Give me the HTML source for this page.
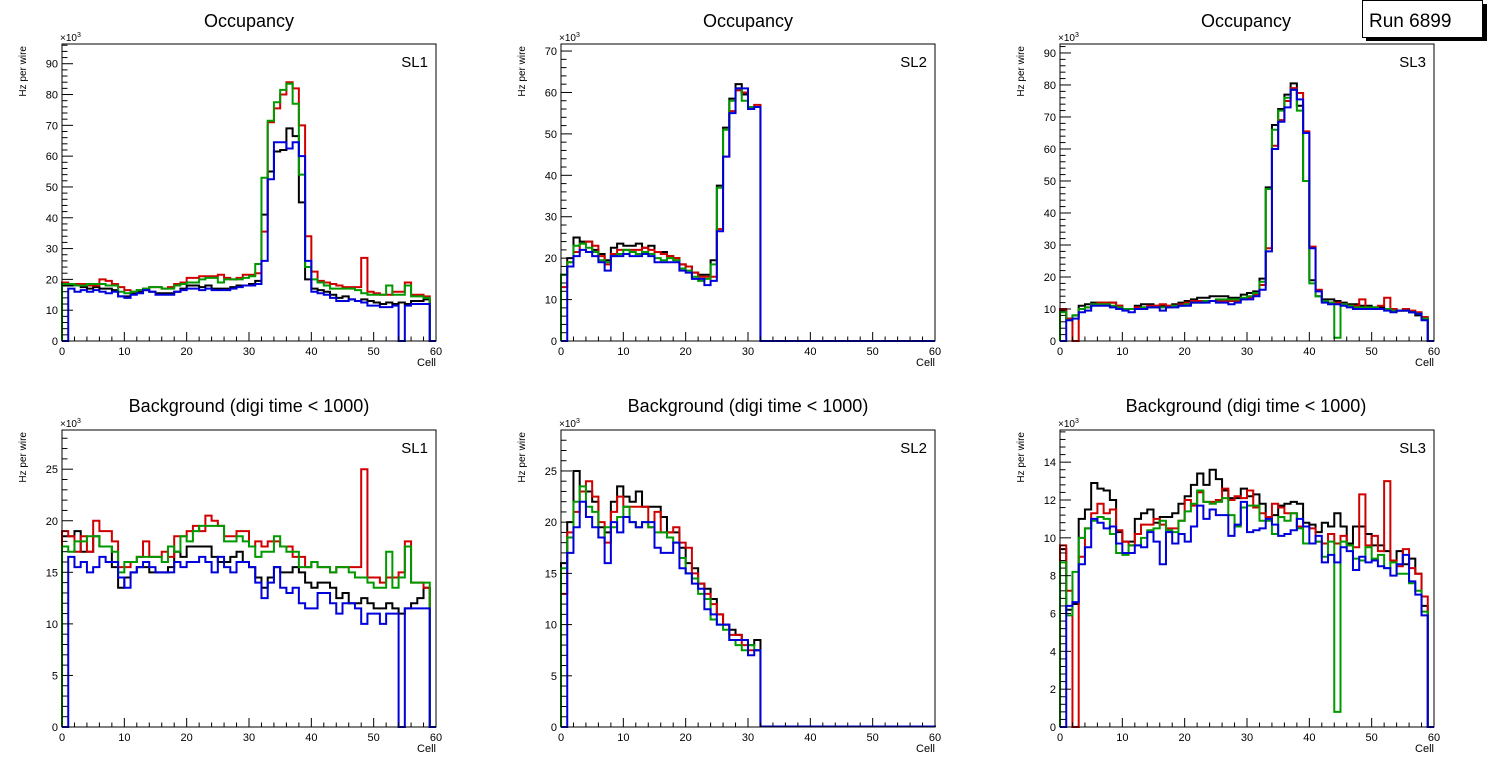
<!DOCTYPE html>
<html><head><meta charset="utf-8"><style>
body{margin:0;background:#fff;}
svg{display:block;font-family:"Liberation Sans",sans-serif;}
</style></head><body>
<svg id="c" width="1496" height="772" viewBox="0 0 1496 772"></svg>
<script>
const cells=[...Array(60).keys()];
const xTicks=[0,10,20,30,40,50,60];
// Panel 1: Occupancy SL1
const occ1Black=[18,18,18,17.5,17,17.5,17,17,16.5,14.5, 14.5,15.5,16,16.5,16,15.5,15.5,15.5,16,17, 18,18,17.5,18,17,17,17,17.5,18,18, 18.5,19.5,41,55,61.5,62,69,66.5,45,20, 17,16.5,16,15,14,14.5,13.5,13,13.5,13, 12.5,12,12.5,12,12.5,12,13,13,13.5,0];
const occ1Red=[19,18.5,18.5,18.5,18,18,20,19.5,18.5,17.5, 16.5,16,16.5,17,17.5,17.5,17,17.5,18.5,19, 20.5,20.5,21,21,21,21.5,20.5,20,20.5,21.5, 21.5,22,35.5,71,75.5,80,84,82,70,34, 22.5,19.5,19,18.5,18,17.5,17.5,17.5,27,16, 15.5,15,15,16,16,19,15,15,14.5,0];
const occ1Green=[18.5,18.5,18,18,18.5,18.5,18.5,18,18,16, 15.5,16,16.5,17,17.5,17.5,17,17,18,18.5, 19,19,20,20.5,20.5,19,20,20,20,20.5, 21,25,53,71.5,77.5,81.5,83.5,77,54,24, 20,19,18,17,17,17,17,16.5,15.5,15, 15,15,18,15,15,18,14.5,14.5,14,0];
const occ1Blue=[0,17,16,16.5,16,16.5,16,15.5,16,14.5, 14,15,15.5,16.5,16,15,15,15,16,16.5, 17,17,16.5,17,16.5,16.5,16.5,17,17.5,18, 18,18.5,26,52.5,64.5,64.5,62.5,64.5,60,26, 16,15.5,15,14,13,13,13.5,13,12.5,11.5, 11.5,11,11,11.5,0,11.5,12,12,12,0];
// Panel 2: Occupancy SL2
const Z28=Array(28).fill(0);
const occ2Black=[16,20,25,24,24,22,21,19.5,22.5,23.5, 23,23,23.5,22.5,23,21.5,21.5,20.5,20,18.5, 18,16.5,16,16,19.5,37.5,51.5,58.5,62,59.5, 56.5,56.5].concat(Z28);
const occ2Red=[13,19,21.5,23.5,24,23,20.5,18.5,21,22, 22,22,22,22.5,22,21.5,21,20.5,20,18.5, 18,16.5,15.5,15.5,15.5,27,44.5,55.5,60.5,60, 56.5,57].concat(Z28);
const occ2Green=[16,19,23,23.5,22.5,21.5,19.5,19,20.5,21, 22,21.5,21,21.5,21,20,19.5,20,19.5,17.5, 17,15.5,14.5,15,18.5,37,51,58,61,58, 56.5,56.5].concat(Z28);
const occ2Blue=[0,18,20.5,22,21.5,20.5,19,17,20.5,20.5, 21,20.5,20.5,21,20.5,19,19,19,19,17, 16.5,15,15,13.5,14.5,26.5,44.5,55,61,61, 56,56.5].concat(Z28);
// Panel 3: Occupancy SL3
const occ3Black=[9.5,7,8,11,11.5,12,12,12,12,11, 10,10,11,11.5,11.5,11,11,11,11.5,12, 12.5,13,13.5,13.5,14,14,14,13.5,13.5,14.5, 15,15.5,19.5,48,67.5,72.5,77,80.5,73.5,50, 19,14,13,13,12.5,12,11.5,11.5,11,11, 10.5,10.5,10,10,9.5,9.5,9,8,7,0];
const occ3Red=[10,7,0,10,10.5,11.5,12,12,12,11, 10,10,10.5,10.5,11,11,11.5,11,11,11.5, 12,12.5,12.5,12.5,12.5,12.5,12.5,12.5,12.5,13, 13.5,14.5,17.5,29,61,69,75,79,77.5,65.5, 29.5,16,12.5,12,12,11.5,11,11,13,10.5, 10.5,11,13.5,10,9.5,10,9.5,9,7.5,0];
const occ3Green=[9,6.5,8,10,10.5,11.5,11.5,11.5,11,10.5, 10,10,10,10.5,10.5,10.5,10.5,10.5,11,11, 11.5,12,12,12.5,12.5,13,13,13,13,13.5, 14,15,18.5,47.5,66,72,76,78.5,72,50, 18,14,12.5,12,1,11.5,11,10.5,10.5,10.5, 10.5,10,10,9.5,9.5,9.5,9,8.5,7,0];
const occ3Blue=[0,6.5,7,9,9.5,11,11,11,10.5,10, 9.5,9,10,10,10.5,10.5,9.5,10.5,10.5,11, 11,12,12,12,12.5,12,12,11.5,12,13, 13,14,16,28,60,68.5,73,78.5,75.5,65, 29,15.5,12,11.5,11.5,11,10.5,10,10,10, 10,10,9.5,9,9.5,9.5,9,8.5,6.5,0];
// Panel 4: Background SL1
const bkg1Black=[18.5,18.5,19,17,17,18.5,17.5,17.5,15.5,13.5, 14.5,15,15.5,15.5,15,15,15,15.5,17,16.5, 17.5,17.5,17.5,17.5,16.5,16,16,16.5,17,16, 15.5,14.5,13.5,14.5,15.5,15,15,15.5,15,14, 13.5,14,14,13.5,12.5,13,12,12,12.5,12, 11.5,11.5,12,11.5,11,11.5,12,12.5,13.5,0];
const bkg1Red=[19,18.5,17,18.5,17,20,19,19,18,15.5, 15.5,16,16.5,18,16.5,16.5,17,16.5,18.5,18.5, 19,19.5,19,20.5,20,19.5,18.5,18.5,19,19, 17.5,18,17.5,18,18,17.5,17.5,16.5,16.5,15.5, 16,15.5,15.5,15,15.5,15.5,15.5,15.5,25,14.5, 14.5,14,14.5,14.5,15,18,14,14,13.5,0];
const bkg1Green=[17.5,17,18,18,18.5,18.5,17.5,17.5,17,15, 16,16,16.5,16.5,16.5,16.5,16,17.5,17,18.5, 18,19,19.5,19.5,19.5,19.5,18,18,18.5,18, 17.5,16.5,17,17,18.5,17.5,17,17,15.5,15.5, 16,15.5,15.5,15,15.5,15.5,15,14.5,14.5,14, 13.5,13.5,17,13.5,14.5,17.5,14,14,14,0];
const bkg1Blue=[0,16.5,15.5,16,15,15.5,16.5,16,16,14.5, 13.5,15,15.5,16,15.5,15,15,15,16,15.5, 16,16,16.5,16,15,16.5,15.5,15,16,16, 15.5,14,12.5,14,15.5,13.5,13,13.5,12,11.5, 11.5,13,13,12,11,12,12,11.5,10,11, 11,10,11,11,0,11.5,11.5,11.5,11.5,0];
// Panel 5: Background SL2
const Z28b=Array(28).fill(0.05);
const bkg2Black=[16,20,25,23,23,22,19.5,19,22,23.5, 22.5,22,23,21.5,21.5,21.5,20.5,19,19,17.5, 16,15.5,14,13.5,12.5,11,10,9.5,9,8.5, 8,8.5].concat(Z28b);
const bkg2Red=[13,19,21,23,24,22.5,20,18,21,22.5, 21.5,21.5,21.5,21.5,19.5,21,19,19,19.5,18, 17.5,15,14,13,12,11,10,9,9,8, 7.5,7.5].concat(Z28b);
const bkg2Green=[15.5,18.5,22,23.5,21.5,21,18.5,19.5,19.5,20.5, 21.5,20,19.5,20,19.5,19,19,18.5,18,16.5, 15,14.5,13,12.5,10.5,10,9.5,8.5,8,7.5, 8,7.5].concat(Z28b);
const bkg2Blue=[0,17,19.5,22,20.5,19.5,18.5,16,20,19, 20.5,20,19.5,20,20,17.5,17,17,18,15.5, 15,14,13.5,11.5,11,10,10,8.5,8.5,8.5, 7,7.5].concat(Z28b);
// Panel 6: Background SL3
const bkg3Black=[9.4,6.2,6.5,11,11.5,12.9,12.6,12.5,12,10.3, 9.8,9.8,11,11.3,11.5,10.8,11.1,11.1,11.3,11.8, 12.2,12.8,13.4,12.8,13.6,13.1,12.5,12.1,12.1,12.6, 12.2,12.3,11.8,11.1,11.2,11.7,11.8,11.9,11.8,10.8, 10.7,10.3,10.8,10.6,11.3,10.6,9.7,10.6,10.6,10.2, 9.6,9.6,9.3,8.8,9.3,8.6,8.9,8.1,6.4,0];
const bkg3Red=[9.6,7.2,0,9,10.5,11.3,11.8,11.3,11.5,10.4, 9.8,9.6,10.2,10.7,10.7,11,10.7,10.5,10.5,10.9, 12,11.7,12.4,11.9,11.9,12,12.6,12,12.2,12.1, 12.5,11.6,11.3,11.1,11.8,11.6,11.3,11.3,10.6,10.6, 10.5,9.8,9.7,10.2,9.7,10.1,9.6,9.5,12.3,9.6, 10.1,9.3,13,8.8,8.5,9.4,8.4,8.1,6.9,0];
const bkg3Green=[8.7,5.9,8.2,10,10.5,10.9,11.1,11,10.2,9.2, 9.1,9.6,9.6,10,10.4,10.5,10.9,10.4,10.3,10.9, 11.4,11.8,12.5,11.9,11.8,11.9,12.1,11.2,10.6,11.6, 11.7,11.7,10.9,10.9,10.2,11.1,10.9,11.3,10.5,9.7, 9.7,9.8,9.0,9.8,0.8,9.8,9.6,8.9,8.8,9.5, 8.9,9.1,8.4,8.7,8.1,8.1,7.6,7.2,6.1,0];
const bkg3Blue=[0,6.4,6.6,8.6,9.5,11,10.8,10.5,10.6,9.7, 9.2,9.2,9.6,9.5,10.3,9.8,8.6,10.3,9.7,10.2, 9.8,10.6,11.7,11,11.5,11.2,11.2,10.1,10.7,11.9, 10.3,10.4,10.5,11,10.7,10.1,10.2,10.4,11,10.6, 9.7,10.1,8.7,9.1,8.7,9.5,9.3,8.3,9,8.7, 8.8,8.5,8.4,8,8.6,9.1,7.7,7,5.9,0];

const NS="http://www.w3.org/2000/svg";
const svg=document.getElementById('c');
function mk(tag,attrs,parent){const e=document.createElementNS(NS,tag);for(const k in attrs)e.setAttribute(k,attrs[k]);(parent||svg).appendChild(e);return e;}
const COLORS=['#000000','#d00000','#009a00','#0000dd'];
const SNAMES=['black','red','green','blue'];

const panels=[
 {x0:62,x1:436,y0:44,y1:341,ymax:96.4,major:10,minor:2,title:'Occupancy',sl:'SL1',tx:249,ty:27,series:[occ1Black,occ1Red,occ1Green,occ1Blue]},
 {x0:561,x1:935,y0:44,y1:341,ymax:71.7,major:10,minor:2,title:'Occupancy',sl:'SL2',tx:748,ty:27,series:[occ2Black,occ2Red,occ2Green,occ2Blue]},
 {x0:1060,x1:1434,y0:44,y1:341,ymax:92.8,major:10,minor:2,title:'Occupancy',sl:'SL3',tx:1246,ty:27,series:[occ3Black,occ3Red,occ3Green,occ3Blue]},
 {x0:62,x1:436,y0:430,y1:727,ymax:28.8,major:5,minor:1,title:'Background (digi time < 1000)',sl:'SL1',tx:249,ty:412,series:[bkg1Black,bkg1Red,bkg1Green,bkg1Blue]},
 {x0:561,x1:935,y0:430,y1:727,ymax:29.0,major:5,minor:1,title:'Background (digi time < 1000)',sl:'SL2',tx:748,ty:412,series:[bkg2Black,bkg2Red,bkg2Green,bkg2Blue]},
 {x0:1060,x1:1434,y0:430,y1:727,ymax:15.7,major:2,minor:0.4,title:'Background (digi time < 1000)',sl:'SL3',tx:1246,ty:412,series:[bkg3Black,bkg3Red,bkg3Green,bkg3Blue]}
];

panels.forEach((p,pi)=>{
  const g=mk('g',{});
  
  
  const xs=v=>p.x0+(v/60)*(p.x1-p.x0);
  const ys=v=>p.y1-(v/p.ymax)*(p.y1-p.y0);
  const t=mk('text',{x:p.tx,y:p.ty,'text-anchor':'middle','font-size':18},g);t.textContent=p.title;
  
  // series
  p.series.forEach((arr,si)=>{
    let d='M'+xs(0)+','+ys(0);
    arr.forEach((v,i)=>{d+=' L'+xs(cells[i])+','+ys(v)+' L'+xs(cells[i]+1)+','+ys(v);});
    d+=' L'+xs(60)+','+ys(0);
    const path=mk('path',{d:d,fill:'none',stroke:COLORS[si],'stroke-width':2},g);
    
    
  });
  // frame
  const fr=mk('rect',{x:p.x0,y:p.y0,width:p.x1-p.x0,height:p.y1-p.y0,fill:'none',stroke:'#000','stroke-width':1},g);
  
  // x ticks
  for(let v=0;v<=60;v+=2){
    const L=(v%10===0)?9:4.5;
    mk('line',{x1:xs(v),x2:xs(v),y1:p.y1,y2:p.y1-L,stroke:'#000','stroke-width':1},g);
  }
  xTicks.forEach(v=>{const tl=mk('text',{x:xs(v),y:p.y1+14,'text-anchor':'middle','font-size':11},g);tl.textContent=v;
    });
  // y ticks
  const nm=Math.floor(p.ymax/p.minor+1e-6);
  for(let k=0;k<=nm;k++){
    const v=k*p.minor;const isMaj=Math.abs(v/p.major-Math.round(v/p.major))<1e-6;
    mk('line',{x1:p.x0,x2:p.x0+(isMaj?11:5.5),y1:ys(v),y2:ys(v),stroke:'#000','stroke-width':1},g);
    if(isMaj){const tl=mk('text',{x:p.x0-4,y:ys(v)+4,'text-anchor':'end','font-size':11},g);tl.textContent=Math.round(v);
      }
  }
  const ex=mk('text',{x:p.x0-2,y:p.y0-3,'font-size':10},g);ex.innerHTML='×10<tspan dy="-4" font-size="7">3</tspan>';
  
  const yt=mk('text',{x:0,y:0,'text-anchor':'end','font-size':10,transform:'translate('+(p.x0-36)+','+(p.y0+2)+') rotate(-90)'},g);yt.textContent='Hz per wire';
  
  const xt=mk('text',{x:p.x1,y:p.y1+25,'text-anchor':'end','font-size':11},g);xt.textContent='Cell';
  
  const sl=mk('text',{x:p.x1-8,y:p.y0+23,'text-anchor':'end','font-size':15},g);sl.textContent=p.sl;
  
});
// Run box
const rb=mk('g',{});

mk('rect',{x:1366,y:4,width:121,height:37,fill:'#000'},rb);
mk('rect',{x:1362.5,y:0.5,width:120,height:37,fill:'#fff',stroke:'#000','stroke-width':1},rb);
const rt=mk('text',{x:1369,y:27,'font-size':19},rb);rt.textContent='Run 6899';

</script>
</body></html>
